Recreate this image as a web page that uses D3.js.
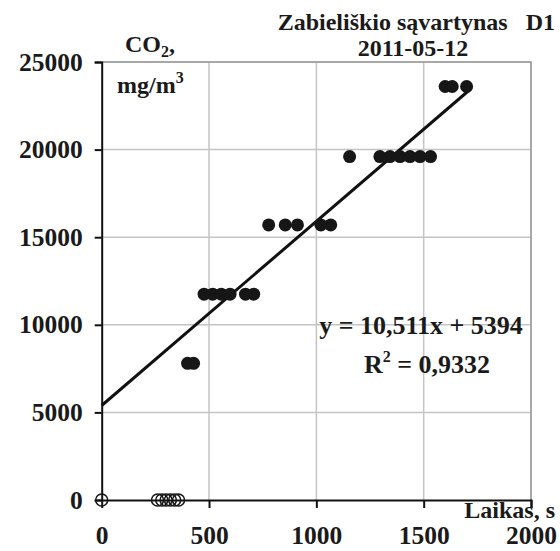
<!DOCTYPE html>
<html>
<head>
<meta charset="utf-8">
<script src="https://cdn.jsdelivr.net/npm/d3@7"></script>
<style>
  html, body { margin: 0; padding: 0; background: #fff; }
  svg text { font-family: "Liberation Serif", "Times New Roman", serif; font-weight: bold; fill: #1a1a1a; }
</style>
</head>
<body>
<div id="chart"></div>
<script>
// CO2 concentration vs time, Zabieliškio sąvartynas D1
const xTicks = [0, 500, 1000, 1500, 2000];
const yTicks = [0, 5000, 10000, 15000, 20000, 25000];

// open markers (excluded, value 0)
const openTime = [0, 260, 280, 300, 320, 340, 358];
const openCo2  = [0, 0, 0, 0, 0, 0, 0];

// filled markers
const fillTime = [400, 428,
                  477, 517, 557, 598, 670, 708,
                  778, 855, 912, 1021, 1067,
                  1155, 1296, 1343, 1390, 1436, 1483, 1532,
                  1600, 1633, 1700];
const fillCo2  = [7800, 7800,
                  11750, 11750, 11750, 11750, 11750, 11750,
                  15700, 15700, 15700, 15700, 15700,
                  19600, 19600, 19600, 19600, 19600, 19600, 19600,
                  23600, 23600, 23600];

// linear trend y = 10,511x + 5394
const trendSlope = 10.511;
const trendIntercept = 5394;
const trendRange = [0, 1720];

const W = 560, H = 551;
const plot = { left: 101.7, right: 531, top: 62, bottom: 500 };

const svg = d3.select('#chart').append('svg')
    .attr('width', W).attr('height', H);

const x = d3.scaleLinear().domain([0, 2000]).range([plot.left, plot.right]);
const y = d3.scaleLinear().domain([0, 25000]).range([plot.bottom, plot.top]);

// grid
const grid = svg.append('g').attr('stroke', '#c4c4c4').attr('stroke-width', 1.5);
grid.selectAll('.gx').data(xTicks.slice(1)).enter().append('line')
    .attr('x1', d => x(d)).attr('x2', d => x(d))
    .attr('y1', plot.top).attr('y2', plot.bottom);
grid.selectAll('.gy').data(yTicks.slice(1)).enter().append('line')
    .attr('x1', plot.left).attr('x2', plot.right)
    .attr('y1', d => y(d)).attr('y2', d => y(d));
// frame right/top
svg.append('path')
    .attr('d', `M${plot.left},${plot.top}H${plot.right}V${plot.bottom}`)
    .attr('fill', 'none').attr('stroke', '#9a9a9a').attr('stroke-width', 1.5);

// axes
const yAxis = d3.axisLeft(y).tickValues(yTicks).tickSize(7).tickPadding(12).tickFormat(d3.format('d'));
const gy = svg.append('g').attr('transform', `translate(${plot.left},0)`).call(yAxis);
const xAxis = d3.axisBottom(x).tickValues(xTicks).tickSize(8).tickPadding(18).tickFormat(d3.format('d'));
const gx = svg.append('g').attr('transform', `translate(0,${plot.bottom})`).call(xAxis);

[gx, gy].forEach(g => {
    g.select('.domain').attr('stroke', '#111').attr('stroke-width', 2);
    g.selectAll('.tick line').attr('stroke', '#111').attr('stroke-width', 2);
    g.selectAll('.tick text')
        .style('font-family', '"Liberation Serif", serif')
        .style('font-weight', 'bold').style('font-size', '25.5px').attr('fill', '#1a1a1a');
});
gx.selectAll('.tick').filter(d => d === 0).select('line').remove();
gx.selectAll('.tick text').attr('dy', '0.71em');
gy.selectAll('.tick').filter(d => d === 0).select('line').attr('x2', -7);

// trend line
svg.append('line')
    .attr('x1', x(trendRange[0])).attr('y1', y(trendSlope * trendRange[0] + trendIntercept))
    .attr('x2', x(trendRange[1])).attr('y2', y(trendSlope * trendRange[1] + trendIntercept))
    .attr('stroke', '#111').attr('stroke-width', 3);

// filled points
svg.append('g').selectAll('circle')
    .data(fillTime.map((t, i) => [t, fillCo2[i]]))
    .enter().append('circle')
    .attr('cx', d => x(d[0])).attr('cy', d => y(d[1]))
    .attr('r', 6.5).attr('fill', '#161616');

// open points
svg.append('g').selectAll('circle')
    .data(openTime.map((t, i) => [t, openCo2[i]]))
    .enter().append('circle')
    .attr('cx', d => x(d[0])).attr('cy', d => y(d[1]))
    .attr('r', 6).attr('fill', 'none').attr('stroke', '#161616').attr('stroke-width', 1.5);

// titles
svg.append('text').attr('x', 555).attr('y', 30).attr('text-anchor', 'end')
    .style('font-size', '24px').text('Zabieliškio sąvartynas\u00a0\u00a0\u00a0D1');
svg.append('text').attr('x', 413).attr('y', 56).attr('text-anchor', 'middle')
    .style('font-size', '24px').text('2011-05-12');

const co2 = svg.append('text').attr('x', 125).attr('y', 52).style('font-size', '24px');
co2.append('tspan').text('CO');
co2.append('tspan').attr('dy', 5).style('font-size', '16px').text('2');
co2.append('tspan').attr('dy', -5).text(',');

const unit = svg.append('text').attr('x', 117).attr('y', 93).style('font-size', '24px');
unit.append('tspan').text('mg/m');
unit.append('tspan').attr('dy', -10).style('font-size', '16px').text('3');

svg.append('text').attr('x', 555).attr('y', 518).attr('text-anchor', 'end')
    .style('font-size', '24px').text('Laikas, s');

// equation
svg.append('text').attr('x', 421).attr('y', 334).attr('text-anchor', 'middle')
    .style('font-size', '26px').text('y = 10,511x + 5394');
const r2 = svg.append('text').attr('x', 427).attr('y', 373).attr('text-anchor', 'middle')
    .style('font-size', '26px');
r2.append('tspan').text('R');
r2.append('tspan').attr('dy', -11).style('font-size', '16px').text('2');
r2.append('tspan').attr('dy', 11).text(' = 0,9332');
</script>
</body>
</html>
